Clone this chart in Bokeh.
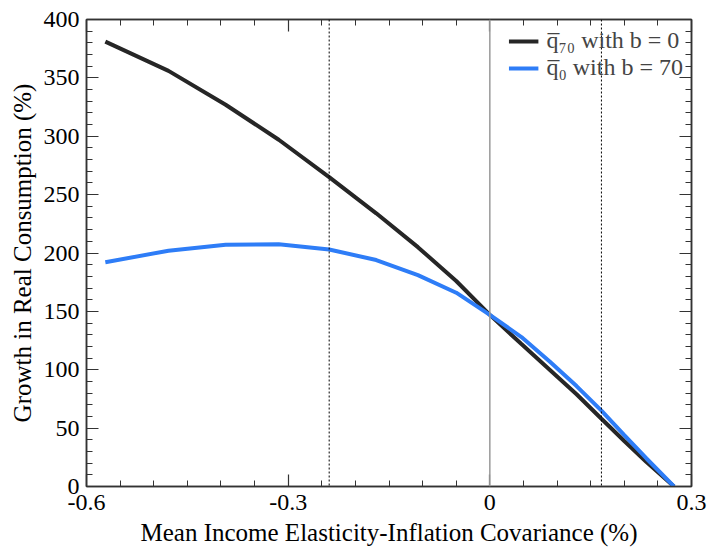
from bokeh.plotting import figure
from bokeh.models import (Span, FixedTicker, CustomJSTickFormatter, LinearAxis,
                          Range1d, Legend, LegendItem)
from bokeh.embed import file_html
from bokeh.resources import INLINE

# ---- data ----
cov = [-0.572, -0.478, -0.393, -0.314, -0.239, -0.169, -0.107, -0.050, 0.000,
       0.047, 0.089, 0.129, 0.166, 0.200, 0.233, 0.274]
q70_b0 = [381, 356, 327, 297, 265, 234, 205, 176, 147,
          122, 100, 79, 58, 39, 21, 0]
q0_b70 = [192, 202, 207, 207.5, 203, 194, 181, 166, 147,
          128, 107, 86, 65, 44, 24, 0]
series_labels = ["q\u0305\u2087\u2080 with b = 0", "q\u0305\u2080 with b = 70"]
dotted_lines = [-0.239, 0.166]
zero_line = [0.0]
x_major = [-0.6, -0.3, 0.0, 0.3]
x_minor = [round(-0.6 + 0.05 * i, 2) for i in range(19)]
y_major = list(range(0, 401, 50))
y_minor = list(range(0, 401, 10))

FONT = "Liberation Serif"

p = figure(width=707, height=554, output_backend="svg", toolbar_location=None,
           x_range=Range1d(-0.6, 0.3), y_range=Range1d(0, 400),
           min_border_left=86, min_border_right=16, min_border_top=19,
           min_border_bottom=68)
p.background_fill_color = "white"
p.border_fill_color = "white"
p.xgrid.visible = False
p.ygrid.visible = False
p.outline_line_color = "#333333"
p.outline_line_width = 1.5

for loc in dotted_lines:
    p.add_layout(Span(location=loc, dimension="height", line_color="black",
                      line_width=1, line_dash="2 2"))
for loc in zero_line:
    p.add_layout(Span(location=loc, dimension="height", line_color="#999999",
                      line_width=1.5))

r1 = p.line(cov, q70_b0, line_color="#262626", line_width=4)
r2 = p.line(cov, q0_b70, line_color="#2e7df7", line_width=4)

xfmt = CustomJSTickFormatter(code="return tick == 0 ? '0' : tick.toFixed(1);")

def style(ax, labels=True):
    ax.major_tick_in = 12
    ax.major_tick_out = 0
    ax.minor_tick_in = 6
    ax.minor_tick_out = 0
    ax.axis_line_color = "#333333"
    ax.axis_line_width = 1.5
    ax.major_tick_line_color = "#333333"
    ax.minor_tick_line_color = "#333333"
    ax.major_tick_line_width = 1.2
    ax.minor_tick_line_width = 1.0
    if labels:
        ax.major_label_text_font = FONT
        ax.major_label_text_font_size = "24px"
        ax.major_label_text_color = "black"
        ax.axis_label_text_font = FONT
        ax.axis_label_text_font_style = "normal"
        ax.axis_label_text_color = "black"
    else:
        ax.major_label_text_font_size = "1px"
        ax.major_label_text_color = None
        ax.major_label_standoff = 0
        ax.axis_label = None

xax = p.xaxis[0]
xax.ticker = FixedTicker(ticks=x_major, minor_ticks=x_minor)
xax.formatter = xfmt
xax.axis_label = "Mean Income Elasticity-Inflation Covariance (%)"
style(xax)
xax.axis_label_text_font_size = "25px"
xax.major_label_standoff = 8
xax.axis_label_standoff = 6

yax = p.yaxis[0]
yax.ticker = FixedTicker(ticks=y_major, minor_ticks=y_minor)
yax.axis_label = "Growth in Real Consumption (%)"
style(yax)
yax.axis_label_text_font_size = "25px"
yax.major_label_standoff = 7
yax.axis_label_standoff = 5

top = LinearAxis(ticker=FixedTicker(ticks=x_major, minor_ticks=x_minor))
style(top, labels=False)
p.add_layout(top, "above")
right = LinearAxis(ticker=FixedTicker(ticks=y_major, minor_ticks=y_minor))
style(right, labels=False)
p.add_layout(right, "right")

legend = Legend(items=[LegendItem(label=series_labels[0], renderers=[r1]),
                       LegendItem(label=series_labels[1], renderers=[r2])],
                location="top_right")
legend.label_text_font = FONT
legend.label_text_font_size = "24px"
legend.glyph_width = 30
legend.label_standoff = 8
legend.spacing = 0
legend.padding = 2
legend.margin = 6
legend.border_line_alpha = 0
legend.background_fill_alpha = 0
p.add_layout(legend)

open("out.html", "w").write(file_html(p, INLINE))
